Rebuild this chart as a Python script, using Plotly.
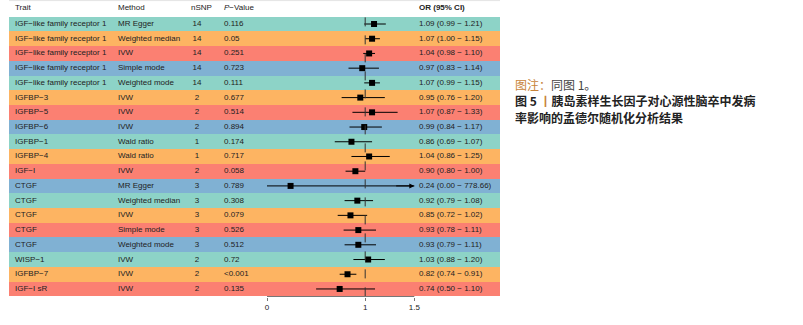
import plotly.graph_objects as go

# ---------------- data ----------------
traits = ["IGF−like family receptor 1"] * 5 + [
    "IGFBP−3", "IGFBP−5", "IGFBP−6", "IGFBP−1", "IGFBP−4", "IGF−I",
    "CTGF", "CTGF", "CTGF", "CTGF", "CTGF", "WISP−1", "IGFBP−7", "IGF−I sR"]
methods = ["MR Egger", "Weighted median", "IVW", "Simple mode", "Weighted mode",
           "IVW", "IVW", "IVW", "Wald ratio", "Wald ratio", "IVW",
           "MR Egger", "Weighted median", "IVW", "Simple mode", "Weighted mode",
           "IVW", "IVW", "IVW"]
nsnp = [14, 14, 14, 14, 14, 2, 2, 2, 1, 1, 2, 3, 3, 3, 3, 3, 2, 2, 2]
pvals = ["0.116", "0.05", "0.251", "0.723", "0.111", "0.677", "0.514", "0.894",
         "0.174", "0.717", "0.058", "0.789", "0.308", "0.079", "0.526", "0.512",
         "0.72", "<0.001", "0.135"]
or_est = [1.09, 1.07, 1.04, 0.97, 1.07, 0.95, 1.07, 0.99, 0.86, 1.04, 0.90,
          0.24, 0.92, 0.85, 0.93, 0.93, 1.03, 0.82, 0.74]
ci_lo = [0.99, 1.00, 0.98, 0.83, 0.99, 0.76, 0.87, 0.84, 0.69, 0.86, 0.80,
         0.00, 0.79, 0.72, 0.78, 0.79, 0.88, 0.74, 0.50]
ci_hi = [1.21, 1.15, 1.10, 1.14, 1.15, 1.20, 1.33, 1.17, 1.07, 1.25, 1.00,
         778.66, 1.08, 1.02, 1.11, 1.11, 1.20, 0.91, 1.10]
tick_vals = [0, 1, 1.5]
tick_text = ["0", "1", "1.5"]
headers = ["Trait", "Method", "nSNP", "<i>P</i>−Value", "<b>OR (95% CI)</b>"]
row_colors = ["#8DD3C7", "#FDB462", "#FB8072", "#80B1D3"]

# ---------------- geometry (page pixels) ----------------
W, H = 803, 325
PX0, PXU = 267.0, 98.2           # pixel of OR=0 and pixels per unit
ROW0, PITCH = 24.0, 14.72        # pixel centre of first row, row pitch
AX_PX = 296.5                    # pixel of the axis line
XMAX = 1.5

def u(px):
    return (px - PX0) / PXU

def rowy(py):
    return (py - ROW0) / PITCH

def px_paper(px):
    return px / W

def py_paper(py):
    return 1 - py / H

n = len(traits)
rows = list(range(n))
font_main = "Liberation Sans, Arial, sans-serif"
txt_col = "#222222"

fig = go.Figure()

# row backgrounds
fig.add_trace(go.Bar(
    y=rows, x=[u(500) - u(9)] * n, base=[u(9)] * n, orientation="h",
    width=[1.0] * n, marker=dict(color=[row_colors[i % 4] for i in rows], line=dict(width=0)),
    hoverinfo="skip", showlegend=False))

# table text
def text_col(xpx, vals, pos="middle right"):
    fig.add_trace(go.Scatter(
        x=[u(xpx)] * len(vals), y=rows, mode="text", text=[str(v) for v in vals],
        textposition=pos, textfont=dict(family=font_main, size=8, color=txt_col),
        hoverinfo="skip", showlegend=False))

text_col(15, traits)
text_col(118, methods)
text_col(197, nsnp, "middle center")
text_col(224, pvals)
ci_text = [f"{o:.2f} ({l:.2f} − {h:.2f})" for o, l, h in zip(or_est, ci_lo, ci_hi)]
text_col(419, ci_text)

# header
hy = rowy(7.5)
fig.add_trace(go.Scatter(
    x=[u(15), u(118), u(191), u(224), u(419)], y=[hy] * 5, mode="text",
    text=headers, textposition="middle right",
    textfont=dict(family=font_main, size=8, color=txt_col),
    hoverinfo="skip", showlegend=False))

# forest points with CIs (clipped at axis max)
hi_disp = [min(h, XMAX) for h in ci_hi]
fig.add_trace(go.Scatter(
    x=or_est, y=rows, mode="markers",
    marker=dict(symbol="square", size=6, color="black"),
    error_x=dict(type="data", symmetric=False,
                 array=[h - o for h, o in zip(hi_disp, or_est)],
                 arrayminus=[o - l for o, l in zip(or_est, ci_lo)],
                 thickness=1, width=0, color="black"),
    cliponaxis=False, hoverinfo="skip", showlegend=False))

# arrow heads for truncated CIs
for i, h in enumerate(ci_hi):
    if h > XMAX:
        fig.add_annotation(x=XMAX, y=i, ax=XMAX - 0.2, ay=i, xref="x", yref="y",
                           axref="x", ayref="y", text="", showarrow=True,
                           arrowhead=2, arrowsize=1, arrowwidth=1,
                           arrowcolor="black", standoff=0)

# reference line at OR = 1
fig.add_shape(type="line", x0=1, x1=1, y0=-0.45, y1=n - 0.5, xref="x", yref="y",
              line=dict(color="#333333", width=1, dash="dash"), layer="above")

# axis line from 0 to 1.5
fig.add_shape(type="line", x0=min(tick_vals), x1=max(tick_vals),
              y0=py_paper(AX_PX), y1=py_paper(AX_PX),
              xref="x", yref="paper", line=dict(color="#777777", width=1))
# faint table top line
fig.add_shape(type="line", x0=u(9), x1=u(500), y0=py_paper(0.6), y1=py_paper(0.6),
              xref="x", yref="paper", line=dict(color="#e4e4e4", width=1))

# caption
cap_font = dict(family="Noto Sans CJK SC", size=12, color="#222222")
cap_x = px_paper(513)
fig.add_annotation(x=cap_x, y=py_paper(85), xref="paper", yref="paper",
                   xanchor="left", yanchor="middle", showarrow=False, font=cap_font,
                   text="<span style='color:#C8843A'>图注：</span><span style='color:#444'>同图 1。</span>")
fig.add_annotation(x=cap_x, y=py_paper(101), xref="paper", yref="paper",
                   xanchor="left", yanchor="middle", showarrow=False, font=cap_font,
                   text="<b>图 5 <span style='color:#C8843A'>丨</span>胰岛素样生长因子对心源性脑卒中发病</b>")
fig.add_annotation(x=cap_x, y=py_paper(117), xref="paper", yref="paper",
                   xanchor="left", yanchor="middle", showarrow=False, font=cap_font,
                   text="<b>率影响的孟德尔随机化分析结果</b>")

fig.update_layout(
    width=W, height=H, margin=dict(l=0, r=0, t=0, b=0),
    paper_bgcolor="white", plot_bgcolor="white", bargap=0,
    xaxis=dict(domain=[0, 1], range=[u(0), u(W)], showgrid=False, zeroline=False,
               showline=False, tickvals=tick_vals, ticktext=tick_text, ticks="outside",
               ticklen=3, tickcolor="#777777",
               tickfont=dict(family=font_main, size=8, color=txt_col),
               fixedrange=True),
    yaxis=dict(domain=[py_paper(AX_PX), 1], range=[rowy(AX_PX), rowy(0)], showgrid=False,
               zeroline=False, showline=False, showticklabels=False, ticks="",
               fixedrange=True),
)

fig.write_html("out.html", config={"displayModeBar": False},
               post_script="document.body.style.margin='0';document.body.style.overflow='hidden';")
